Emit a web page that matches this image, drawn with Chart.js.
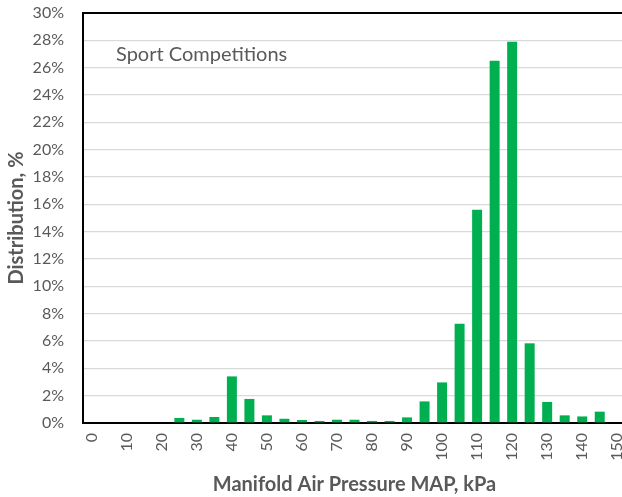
<!DOCTYPE html>
<html>
<head>
<meta charset="utf-8">
<script src="https://cdn.jsdelivr.net/npm/chart.js@4"></script>
<style>
  html, body { margin: 0; padding: 0; background: #fff; overflow: hidden; }
  #wrap { width: 626px; height: 497px; }
</style>
</head>
<body>
<div id="wrap"><canvas id="chart"></canvas></div>
<script>
// MAP bins, kPa
const categories = [0, 5, 10, 15, 20, 25, 30, 35, 40, 45, 50, 55, 60, 65, 70, 75,
  80, 85, 90, 95, 100, 105, 110, 115, 120, 125, 130, 135, 140, 145, 150];

// Distribution, %
const distribution = [0, 0, 0, 0, 0, 0.37, 0.24, 0.44, 3.41, 1.76, 0.56, 0.31, 0.22,
  0.15, 0.24, 0.24, 0.15, 0.15, 0.41, 1.58, 2.97, 7.27, 15.6, 26.5, 27.9, 5.83,
  1.54, 0.56, 0.48, 0.83, 0];

const chartTitle = 'Sport Competitions';
const xTitle = 'Manifold Air Pressure MAP, kPa';
const yTitle = 'Distribution, %';

const textColor = '#595959';
const fontFamily = 'Lato, "Open Sans", sans-serif';

// Plot border on top + title text inside the plot
const plotDecor = {
  id: 'plotDecor',
  afterDraw(chart) {
    const { ctx, chartArea } = chart;
    ctx.save();
    ctx.strokeStyle = '#000';
    ctx.lineWidth = 2;
    ctx.beginPath();
    ctx.moveTo(chartArea.left, chartArea.top);
    ctx.lineTo(chartArea.right, chartArea.top);
    ctx.stroke();

    ctx.fillStyle = textColor;
    ctx.font = `20px ${fontFamily}`;
    ctx.textBaseline = 'middle';
    ctx.fillText(chartTitle, chartArea.left + 33, chartArea.top + 42);
    ctx.restore();
  },
};

new Chart(document.getElementById('chart'), {
  type: 'bar',
  data: {
    labels: categories,
    datasets: [
      {
        data: distribution,
        backgroundColor: '#00B050',
        borderWidth: 0,
        barPercentage: 0.57,
        categoryPercentage: 1,
      },
    ],
  },
  options: {
    responsive: true,
    maintainAspectRatio: false,
    animation: false,
    layout: { padding: { top: 13, right: 0, bottom: 0, left: 0 } },
    plugins: {
      legend: { display: false },
      tooltip: { enabled: false },
    },
    scales: {
      x: {
        grid: { display: false, drawTicks: false },
        border: { color: '#000', width: 2 },
        ticks: {
          autoSkip: false,
          minRotation: 90,
          maxRotation: 90,
          padding: 10,
          color: textColor,
          font: { family: fontFamily, size: 16 },
          callback: (val, i) => (i % 2 === 0 ? categories[i] : ''),
        },
        title: {
          display: true,
          text: xTitle,
          color: textColor,
          font: { family: fontFamily, size: 20, weight: 'bold' },
          padding: { top: 2, bottom: 0 },
        },
        afterFit: (scale) => {
          scale.height = 74;
          scale.paddingLeft = 0;
          scale.paddingRight = 0;
        },
      },
      y: {
        min: 0,
        max: 30,
        grid: { color: '#d9d9d9', lineWidth: 1.3, drawTicks: false },
        border: { color: '#000', width: 2 },
        ticks: {
          stepSize: 2,
          padding: 19,
          color: textColor,
          font: { family: fontFamily, size: 16 },
          callback: (v) => v + '%',
        },
        title: {
          display: true,
          text: yTitle,
          color: textColor,
          font: { family: fontFamily, size: 20, weight: 'bold' },
          padding: { top: 5, bottom: 0 },
        },
        afterFit: (scale) => {
          scale.width = 83;
          scale.paddingTop = 0;
          scale.paddingBottom = 0;
        },
      },
    },
  },
  plugins: [plotDecor],
});
</script>
</body>
</html>
